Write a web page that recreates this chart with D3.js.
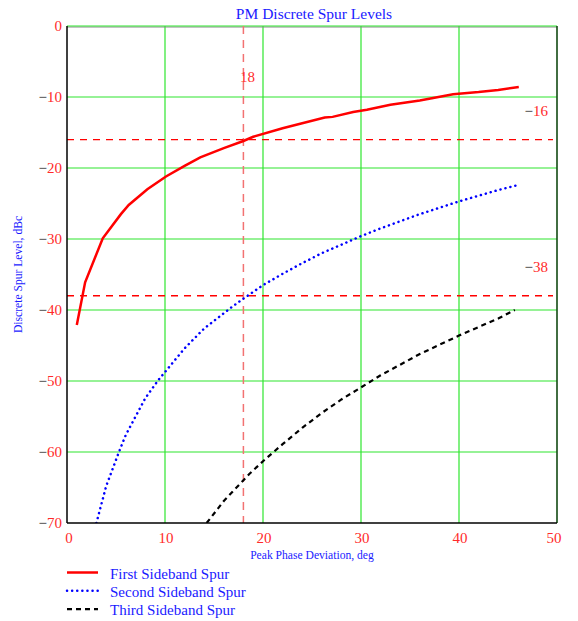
<!DOCTYPE html>
<html>
<head>
<meta charset="utf-8">
<script src="https://cdn.jsdelivr.net/npm/d3@7"></script>
<style>
  body { margin: 0; background: #fff; }
  text { font-family: "Liberation Serif", "Times New Roman", serif; }
</style>
</head>
<body>
<div class="vis-spur"></div>
<script>
// data
const firstX = [1.0, 1.85, 3.65, 5.5, 6.3, 8.2, 10.1, 12, 13.6, 16, 18, 19, 22, 24, 26.3, 27.1, 29.2, 30.6, 33, 36, 39.4, 42, 44, 46.1];
const firstY = [-42.1, -36.1, -29.9, -26.5, -25.2, -23.0, -21.2, -19.7, -18.5, -17.2, -16.2, -15.6, -14.4, -13.7, -12.9, -12.8, -12.1, -11.8, -11.1, -10.5, -9.6, -9.3, -9.0, -8.6];
const secondX = [3.0, 4, 5.3, 6, 8, 9.3, 12, 14, 16.8, 18, 20, 22, 24, 26, 28, 30, 32, 34, 36, 38, 40, 42, 44, 46];
const secondY = [-70, -64.8, -60.0, -57.6, -52.4, -49.9, -45.4, -42.6, -39.6, -38.4, -36.5, -34.9, -33.4, -32.0, -30.8, -29.6, -28.5, -27.5, -26.5, -25.6, -24.7, -23.9, -23.1, -22.4];
const thirdX = [14.25, 16, 18.6, 20, 22, 24, 26, 28, 30, 32, 34, 36, 38, 40, 42, 44, 45.7];
const thirdY = [-70, -66.9, -63.1, -61.3, -58.9, -56.6, -54.5, -52.6, -50.9, -49.2, -47.7, -46.2, -44.9, -43.6, -42.4, -41.2, -40.0];

const xTicks = [0, 10, 20, 30, 40, 50];
const yTicks = [0, -10, -20, -30, -40, -50, -60, -70];
const markerX = 18;
const markerY = [-16, -38];
const seriesNames = ["First Sideband Spur", "Second Sideband Spur", "Third Sideband Spur"];

const W = 578, H = 621;
const margin = {top: 26, left: 67, right: 21, bottom: 98};
const width = W - margin.left - margin.right;
const height = H - margin.top - margin.bottom;

const svg = d3.select('.vis-spur')
    .append("svg")
    .attr("width", W)
    .attr("height", H);

const x = d3.scaleLinear().domain([0, 50]).range([margin.left, margin.left + width]);
const y = d3.scaleLinear().domain([-70, 0]).range([margin.top + height, margin.top]);

svg.append('defs').append('clipPath')
    .attr("id", 'clip-rect')
    .append('rect')
    .attr("x", margin.left).attr("y", margin.top)
    .attr("width", width).attr("height", height);

// grid
const gridColor = "#2ee62e";
const grid = svg.append("g");
grid.selectAll(".gx")
    .data(xTicks.slice(1, -1))
    .enter().append("line")
    .attr("x1", d => x(d)).attr("x2", d => x(d))
    .attr("y1", y(0)).attr("y2", y(-70))
    .attr("stroke", gridColor).attr("stroke-width", 1.2);
grid.selectAll(".gy")
    .data(yTicks.slice(1, -1))
    .enter().append("line")
    .attr("x1", x(0)).attr("x2", x(50))
    .attr("y1", d => y(d)).attr("y2", d => y(d))
    .attr("stroke", gridColor).attr("stroke-width", 1.2);

// frame
grid.append("line").attr("x1", x(0)).attr("x2", x(50)).attr("y1", y(0) + 1).attr("y2", y(0) + 1)
    .attr("stroke", "#888").attr("stroke-width", 1);
grid.append("line").attr("x1", x(0)).attr("x2", x(50)).attr("y1", y(0)).attr("y2", y(0))
    .attr("stroke", gridColor).attr("stroke-width", 1.2);
grid.append("line").attr("x1", x(50)).attr("x2", x(50)).attr("y1", y(0)).attr("y2", y(-70))
    .attr("stroke", "#124a12").attr("stroke-width", 1.6);

// marker lines
svg.append("line")
    .attr("x1", x(markerX)).attr("x2", x(markerX))
    .attr("y1", y(0)).attr("y2", y(-70))
    .attr("stroke", "#f27272").attr("stroke-width", 1.5)
    .attr("stroke-dasharray", "8,6");
svg.append("g").selectAll("line")
    .data(markerY)
    .enter().append("line")
    .attr("x1", x(0)).attr("x2", x(50) - 4)
    .attr("y1", d => y(d)).attr("y2", d => y(d))
    .attr("stroke", "#ff0000").attr("stroke-width", 1.4)
    .attr("stroke-dasharray", "7,6");

// curves
const line = d3.line().x(d => x(d[0])).y(d => y(d[1]));
const content = svg.append("g").attr("clip-path", "url(#clip-rect)");
const series = [
    {xs: firstX, ys: firstY, color: "#ff0000", width: 2.5, dash: null, cap: "butt"},
    {xs: secondX, ys: secondY, color: "#0000ff", width: 2.5, dash: "0.1,5", cap: "round"},
    {xs: thirdX, ys: thirdY, color: "#000000", width: 2.2, dash: "5,4", cap: "butt"}
];
series.forEach(s => {
    content.append("path")
        .datum(s.xs.map((v, i) => [v, s.ys[i]]))
        .attr("d", line)
        .attr("fill", "none")
        .attr("stroke", s.color)
        .attr("stroke-width", s.width)
        .attr("stroke-linecap", s.cap)
        .attr("stroke-dasharray", s.dash);
});

// left/bottom axis lines
svg.append("line").attr("x1", x(0)).attr("x2", x(0)).attr("y1", y(0)).attr("y2", y(-70))
    .attr("stroke", "#000").attr("stroke-width", 1.5);
svg.append("line").attr("x1", x(0)).attr("x2", x(50)).attr("y1", y(-70)).attr("y2", y(-70))
    .attr("stroke", "#000").attr("stroke-width", 1.5);

// signed label: black minus, red digits
function signed(sel, v) {
    if (v < 0) {
        sel.append("tspan").attr("fill", "#222").text("\u2212");
        sel.append("tspan").attr("fill", "#ff2a2a").text(Math.abs(v));
    } else {
        sel.append("tspan").attr("fill", "#ff2a2a").text(v);
    }
}

// tick labels
svg.append("g").selectAll("text")
    .data(yTicks)
    .enter().append("text")
    .attr("x", x(0) - 5)
    .attr("y", d => y(d) + 5)
    .attr("text-anchor", "end")
    .attr("font-size", 15)
    .each(function(d) { signed(d3.select(this), d); });
svg.append("g").selectAll("text")
    .data(xTicks)
    .enter().append("text")
    .attr("x", d => x(d) + (d === 50 ? -3 : d === 0 ? 2 : 1))
    .attr("y", y(-70) + 20)
    .attr("text-anchor", "middle")
    .attr("font-size", 15)
    .attr("fill", "#ff2a2a")
    .text(d => d);

// marker labels
svg.append("text")
    .attr("x", x(markerX) + 4).attr("y", 82)
    .attr("text-anchor", "middle")
    .attr("font-size", 15)
    .attr("fill", "#ff2a2a")
    .text(markerX);
svg.append("g").selectAll("text")
    .data(markerY)
    .enter().append("text")
    .attr("x", 548)
    .attr("y", d => y(d) - 24)
    .attr("text-anchor", "end")
    .attr("font-size", 15)
    .each(function(d) { signed(d3.select(this), d); });

// titles
svg.append("text")
    .attr("x", 314).attr("y", 19)
    .attr("text-anchor", "middle")
    .attr("font-size", 15.5)
    .attr("fill", "#1a1aff")
    .text("PM Discrete Spur Levels");
svg.append("text")
    .attr("x", 312).attr("y", 559)
    .attr("text-anchor", "middle")
    .attr("font-size", 11.6)
    .attr("fill", "#1a1aff")
    .text("Peak Phase Deviation, deg");
svg.append("text")
    .attr("transform", `translate(22, ${(y(0) + y(-70)) / 2}) rotate(-90)`)
    .attr("text-anchor", "middle")
    .attr("font-size", 11.6)
    .attr("fill", "#1a1aff")
    .text("Discrete Spur Level, dBc");

// legend
const legend = svg.append("g").selectAll("g")
    .data(series)
    .enter().append("g")
    .attr("transform", (d, i) => `translate(67, ${572.5 + i * 18.3})`);
legend.append("line")
    .attr("x1", 0).attr("x2", 31)
    .attr("stroke", d => d.color)
    .attr("stroke-width", d => d.width)
    .attr("stroke-linecap", d => d.cap)
    .attr("stroke-dasharray", d => d.dash);
legend.append("text")
    .attr("x", 43).attr("y", 6)
    .attr("font-size", 15)
    .attr("fill", "#1a1aff")
    .text((d, i) => seriesNames[i]);
</script>
</body>
</html>
